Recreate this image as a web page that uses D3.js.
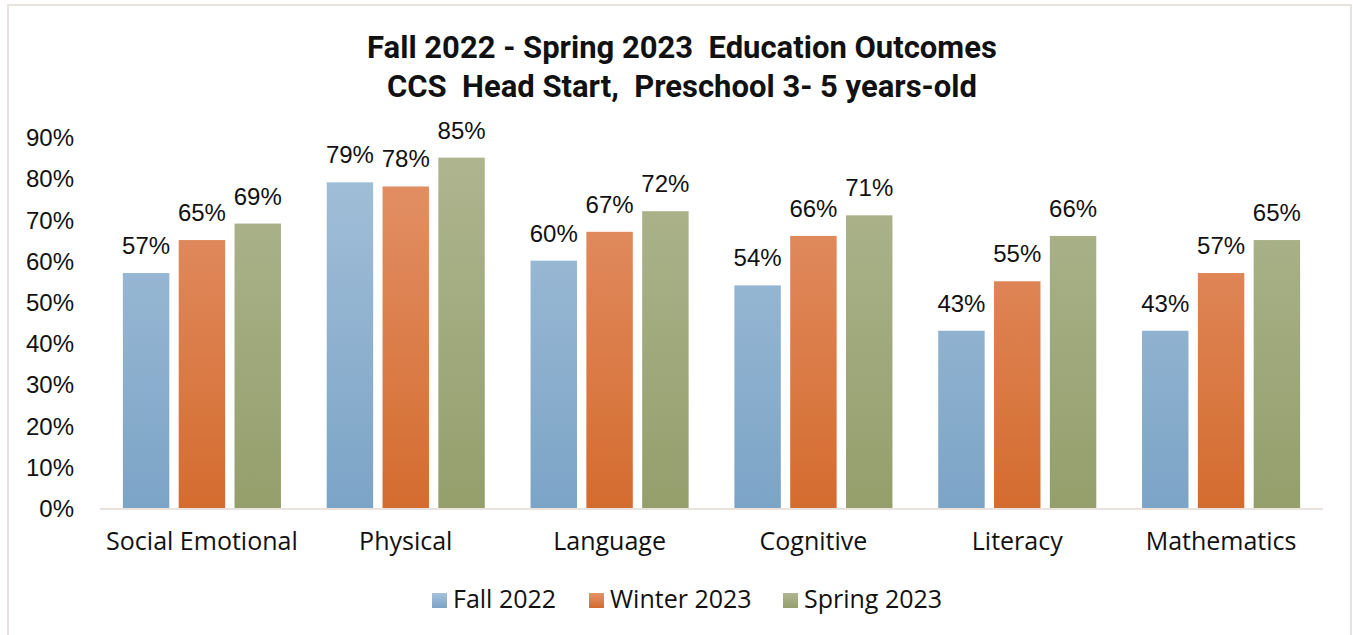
<!DOCTYPE html>
<html>
<head>
<meta charset="utf-8">
<script src="https://cdn.jsdelivr.net/npm/d3@7"></script>
<style>
  html, body { margin: 0; padding: 0; background: #ffffff; }
  svg { display: block; }
</style>
</head>
<body>
<svg id="chart" width="1353" height="635"></svg>
<script>
// Outcome areas and the three assessment checkpoints
const categories = ["Social Emotional", "Physical", "Language", "Cognitive", "Literacy", "Mathematics"];
const seriesNames = ["Fall 2022", "Winter 2023", "Spring 2023"];
const fall2022   = [0.57, 0.79, 0.60, 0.54, 0.43, 0.43];
const winter2023 = [0.65, 0.78, 0.67, 0.66, 0.55, 0.57];
const spring2023 = [0.69, 0.85, 0.72, 0.71, 0.66, 0.65];
const yTicks = [0, 0.1, 0.2, 0.3, 0.4, 0.5, 0.6, 0.7, 0.8, 0.9];
const titleLines = ["Fall 2022 - Spring 2023\u00a0 Education Outcomes", "CCS\u00a0 Head Start,\u00a0 Preschool 3- 5 years-old"];

const seriesValues = [fall2022, winter2023, spring2023];
// top / bottom shades of each series' vertical gradient
const seriesColors = [
  { top: "#a5c1da", bottom: "#7ca4c6" },
  { top: "#e4936c", bottom: "#d46c2f" },
  { top: "#b0b691", bottom: "#949f6c" }
];

const svg = d3.select("#chart");
const W = 1353, H = 635;

svg.append("rect").attr("width", W).attr("height", H).attr("fill", "#ffffff");
// chart frame
svg.append("rect")
  .attr("x", 8).attr("y", 5).attr("width", 1343).attr("height", 660)
  .attr("fill", "none").attr("stroke", "#e8e3df").attr("stroke-width", 2);

const defs = svg.append("defs");
seriesColors.forEach((c, i) => {
  const g = defs.append("linearGradient")
    .attr("id", "grad" + i)
    .attr("gradientUnits", "userSpaceOnUse")
    .attr("x1", 0).attr("x2", 0).attr("y1", 137).attr("y2", 508);
  g.append("stop").attr("offset", "0%").attr("stop-color", c.top);
  g.append("stop").attr("offset", "100%").attr("stop-color", c.bottom);
  const lg = defs.append("linearGradient")
    .attr("id", "lgrad" + i)
    .attr("x1", 0).attr("x2", 0).attr("y1", 0).attr("y2", 1);
  lg.append("stop").attr("offset", "0%").attr("stop-color", c.top);
  lg.append("stop").attr("offset", "100%").attr("stop-color", c.bottom);
});

const plot = { left: 100, right: 1323, top: 137, bottom: 508 };

const x0 = d3.scaleBand().domain(categories).range([plot.left, plot.right]).padding(0);
const x1 = d3.scaleBand().domain(seriesNames).range([0, x0.bandwidth()])
  .paddingInner(0.168).paddingOuter(0.41);
const y = d3.scaleLinear().domain([0, 0.9]).range([plot.bottom, plot.top]);

const valueFont = "'Liberation Sans', Arial, sans-serif";
const textFont = "'Open Sans', Lato, sans-serif";

// y axis labels (no axis line or gridlines)
const yAxis = d3.axisLeft(y).tickValues(yTicks).tickFormat(d3.format(".0%")).tickSize(0).tickPadding(0);
const yg = svg.append("g").attr("transform", "translate(74,0)").call(yAxis);
yg.select(".domain").remove();
yg.selectAll("text")
  .attr("font-family", valueFont).attr("font-size", 24).attr("fill", "#111")
  .attr("dy", "0.36em");

// bars
const groups = svg.append("g").selectAll("g")
  .data(categories)
  .join("g")
  .attr("transform", d => `translate(${x0(d)},0)`);

groups.selectAll("rect")
  .data((d, ci) => seriesNames.map((s, si) => ({ s, si, v: seriesValues[si][ci] })))
  .join("rect")
  .attr("x", d => x1(d.s))
  .attr("width", x1.bandwidth())
  .attr("y", d => y(d.v))
  .attr("height", d => y(0) - y(d.v))
  .attr("fill", d => `url(#grad${d.si})`);

// value labels
groups.selectAll("text.val")
  .data((d, ci) => seriesNames.map((s, si) => ({ s, si, v: seriesValues[si][ci] })))
  .join("text")
  .attr("class", "val")
  .attr("x", d => x1(d.s) + x1.bandwidth() / 2)
  .attr("y", d => y(d.v) - 19)
  .attr("text-anchor", "middle")
  .attr("font-family", valueFont).attr("font-size", 24).attr("fill", "#111")
  .text(d => d3.format(".0%")(d.v));

// baseline
svg.append("line")
  .attr("x1", plot.left).attr("x2", plot.right)
  .attr("y1", y(0) + 1).attr("y2", y(0) + 1)
  .attr("stroke", "#e8e3df").attr("stroke-width", 2);

// category labels
const xAxis = d3.axisBottom(x0).tickSize(0).tickPadding(0);
const xg = svg.append("g").attr("transform", `translate(0,${plot.bottom})`).call(xAxis);
xg.select(".domain").remove();
xg.selectAll("text")
  .attr("font-family", textFont).attr("font-size", 25).attr("fill", "#111")
  .attr("dy", null).attr("y", 42);

// title
const title = svg.append("text")
  .attr("text-anchor", "middle")
  .attr("font-family", "'Liberation Sans Narrow', 'Roboto', sans-serif")
  .attr("font-weight", "bold").attr("font-size", 31).attr("fill", "#111");
titleLines.forEach((t, i) => {
  title.append("tspan").attr("x", 682).attr("y", 58 + i * 39).text(t);
});

// legend
const legendX = [432, 589, 783];
const legend = svg.append("g").selectAll("g")
  .data(seriesNames)
  .join("g")
  .attr("transform", (d, i) => `translate(${legendX[i]},0)`);
legend.append("rect")
  .attr("x", 0).attr("y", 593).attr("width", 15).attr("height", 15)
  .attr("fill", (d, i) => `url(#lgrad${i})`);
legend.append("text")
  .attr("x", 21).attr("y", 608)
  .attr("font-family", textFont).attr("font-size", 25).attr("fill", "#111")
  .text(d => d);
</script>
</body>
</html>
